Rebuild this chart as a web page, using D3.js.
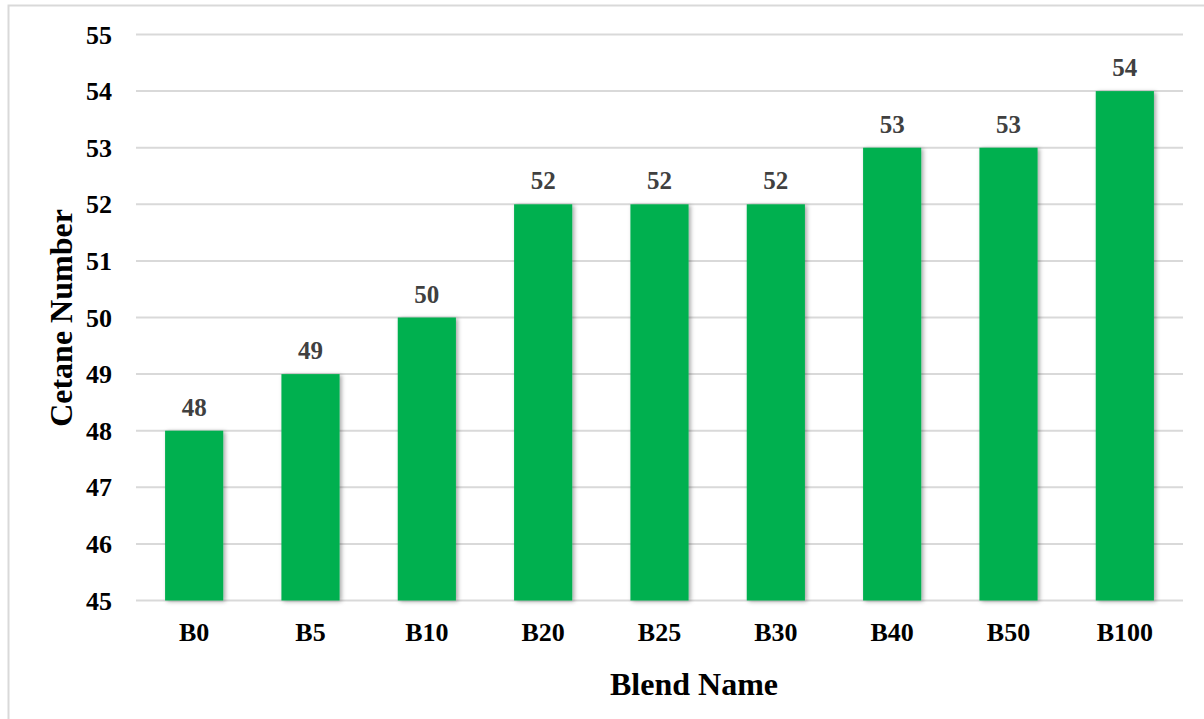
<!DOCTYPE html>
<html>
<head>
<meta charset="utf-8">
<script src="https://cdn.jsdelivr.net/npm/d3@7"></script>
<style>
html,body{margin:0;padding:0;background:#fff;}
svg{display:block;}
</style>
</head>
<body>
<script>
const categories = ["B0","B5","B10","B20","B25","B30","B40","B50","B100"];
const values = [48,49,50,52,52,52,53,53,54];
const yTicks = [45,46,47,48,49,50,51,52,53,54,55];
const xTitle = "Blend Name";
const yTitle = "Cetane Number";

const W = 1204, H = 719;
const svg = d3.select("body").append("svg").attr("width", W).attr("height", H);
const font = "'Liberation Serif','Times New Roman',serif";

const defs = svg.append("defs");
const f = defs.append("filter").attr("id","sh").attr("x","-20%").attr("y","-5%").attr("width","150%").attr("height","115%");
f.append("feDropShadow").attr("dx",2).attr("dy",1).attr("stdDeviation",2).attr("flood-color","#000").attr("flood-opacity",0.35);

// outer border
svg.append("rect").attr("x",8.5).attr("y",5.5).attr("width",W).attr("height",H)
  .attr("fill","none").attr("stroke","#d9d9d9").attr("stroke-width",2);

const x = d3.scaleBand().domain(categories).range([136,1183]).paddingInner(0.5).paddingOuter(0.25);
const y = d3.scaleLinear().domain([45,55]).range([600.5,34.5]);

// grid
svg.append("g").selectAll("line").data(yTicks).join("line")
  .attr("x1",136).attr("x2",1183)
  .attr("y1",d=>y(d)).attr("y2",d=>y(d))
  .attr("stroke","#d9d9d9").attr("stroke-width",2);

// y axis labels
const yAxis = d3.axisLeft(y).tickValues(yTicks).tickSize(0).tickPadding(0);
const gy = svg.append("g").attr("transform","translate(112,0)").call(yAxis);
gy.select(".domain").remove();
gy.selectAll("text").attr("font-family",font).attr("font-size",26).attr("font-weight","bold").attr("fill","#000").attr("dy","0.33em");

// bars
svg.append("g").selectAll("rect").data(values).join("rect")
  .attr("x",(d,i)=>x(categories[i]))
  .attr("width",x.bandwidth())
  .attr("y",d=>y(d))
  .attr("height",d=>y(45)-y(d))
  .attr("fill","#00b050")
  .attr("filter","url(#sh)");

// value labels
svg.append("g").selectAll("text").data(values).join("text")
  .attr("x",(d,i)=>x(categories[i])+x.bandwidth()/2)
  .attr("y",d=>y(d)-15)
  .attr("text-anchor","middle")
  .attr("font-family",font).attr("font-size",25).attr("font-weight","bold")
  .attr("fill","#404040")
  .text(d=>d);

// x axis labels
const xAxis = d3.axisBottom(x).tickSize(0).tickPadding(0);
const gx = svg.append("g").attr("transform","translate(0,640.5)").call(xAxis);
gx.select(".domain").remove();
gx.selectAll("text").attr("font-family",font).attr("font-size",26).attr("font-weight","bold").attr("fill","#000").attr("dy",0);

// titles
svg.append("text").attr("x",694).attr("y",695).attr("text-anchor","middle")
  .attr("font-family",font).attr("font-size",32).attr("font-weight","bold").attr("fill","#000").text(xTitle);
svg.append("text").attr("transform","translate(72,318) rotate(-90)").attr("text-anchor","middle")
  .attr("font-family",font).attr("font-size",32).attr("font-weight","bold").attr("fill","#000").text(yTitle);
</script>
</body>
</html>
